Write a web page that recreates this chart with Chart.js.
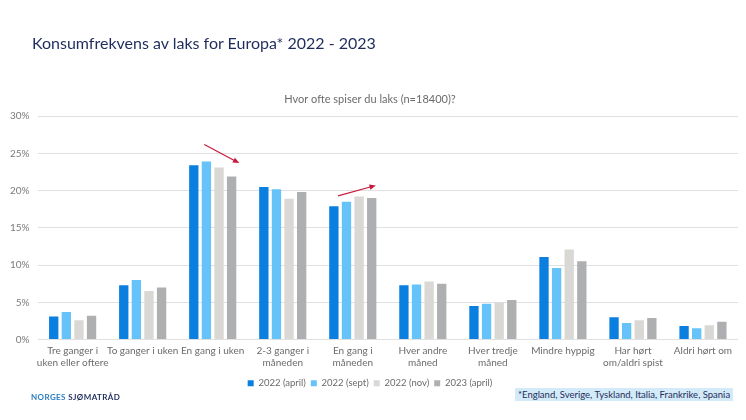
<!DOCTYPE html>
<html>
<head>
<meta charset="utf-8">
<script src="https://cdn.jsdelivr.net/npm/chart.js@4"></script>
<style>
    body { margin: 0; background: #fff; font-family: Lato, sans-serif; }
    #wrap { position: relative; width: 746px; height: 420px; }
    #title { position: absolute; left: 32px; top: 33px; font-size: 16px; color: #1f2d5c; white-space: nowrap; }
    #logo { position: absolute; left: 31px; top: 392px; font-size: 8px; font-weight: bold; letter-spacing: 0.4px; color: #1f2d5c; }
    #logo span { color: #2b7cc0; }
    #note { position: absolute; left: 515px; top: 388px; padding: 1px 3px; font-size: 9.5px; color: #1f2d5c; background: #d3eaf8; white-space: nowrap; }
</style>
</head>
<body>
<div id="wrap">
    <canvas id="chart" width="746" height="420"></canvas>
    <div id="title">Konsumfrekvens av laks for Europa* 2022 - 2023</div>
    <div id="logo"><span>NORGES</span> SJØMATRÅD</div>
    <div id="note">*England, Sverige, Tyskland, Italia, Frankrike, Spania</div>
</div>
<script>
const categories = [
    ["Tre ganger i", "uken eller oftere"],
    "To ganger i uken",
    "En gang i uken",
    ["2-3 ganger i", "måneden"],
    ["En gang i", "måneden"],
    ["Hver andre", "måned"],
    ["Hver tredje", "måned"],
    "Mindre hyppig",
    ["Har hørt", "om/aldri spist"],
    "Aldri hørt om"
]

const april2022 = [3.1, 7.3, 23.4, 20.5, 17.9, 7.3, 4.5, 11.1, 3.0, 1.8]
const sept2022  = [3.7, 8.0, 23.9, 20.2, 18.5, 7.4, 4.8, 9.6, 2.2, 1.5]
const nov2022   = [2.6, 6.5, 23.1, 18.9, 19.2, 7.8, 5.0, 12.1, 2.6, 1.9]
const april2023 = [3.2, 7.0, 21.9, 19.8, 19.0, 7.5, 5.3, 10.5, 2.9, 2.4]

const seriesNames = ["2022 (april)", "2022 (sept)", "2022 (nov)", "2023 (april)"]
const seriesColors = ["#0a7fe0", "#66c3fa", "#d9d8d5", "#aeafb1"]

// trend arrows: [category position, value] start -> end
const arrows = [
    {from: [1.88, 26.2], to: [2.38, 23.7]},
    {from: [3.79, 19.3], to: [4.33, 20.7]}
]

const arrowPlugin = {
    id: "arrows",
    afterDatasetsDraw(chart) {
        const {ctx, scales: {x, y}} = chart
        const step = x.getPixelForValue(1) - x.getPixelForValue(0)
        const px = v => x.getPixelForValue(0) + v * step
        ctx.save()
        ctx.strokeStyle = "#c8193c"
        ctx.fillStyle = "#c8193c"
        ctx.lineWidth = 1.2
        arrows.forEach(a => {
            const x1 = px(a.from[0]), y1 = y.getPixelForValue(a.from[1])
            const x2 = px(a.to[0]), y2 = y.getPixelForValue(a.to[1])
            const ang = Math.atan2(y2 - y1, x2 - x1)
            ctx.beginPath()
            ctx.moveTo(x1, y1)
            ctx.lineTo(x2 - 4 * Math.cos(ang), y2 - 4 * Math.sin(ang))
            ctx.stroke()
            ctx.beginPath()
            ctx.moveTo(x2, y2)
            ctx.lineTo(x2 - 7 * Math.cos(ang - 0.4), y2 - 7 * Math.sin(ang - 0.4))
            ctx.lineTo(x2 - 7 * Math.cos(ang + 0.4), y2 - 7 * Math.sin(ang + 0.4))
            ctx.closePath()
            ctx.fill()
        })
        ctx.restore()
    }
}

const values = [april2022, sept2022, nov2022, april2023]

new Chart(document.querySelector("#chart"), {
    type: "bar",
    data: {
        labels: categories,
        datasets: values.map((data, i) => ({
            label: seriesNames[i],
            data: data,
            backgroundColor: seriesColors[i],
            categoryPercentage: 0.72,
            barPercentage: 0.74
        }))
    },
    options: {
        responsive: false,
        animation: false,
        layout: {padding: {top: 93, bottom: 22, left: 2, right: 8}},
        plugins: {
            legend: {
                position: "bottom",
                labels: {
                    boxWidth: 6, boxHeight: 6, padding: 5,
                    color: "#6b6b6b",
                    font: {family: "Lato", size: 9.5}
                }
            },
            subtitle: {
                display: true,
                text: "Hvor ofte spiser du laks (n=18400)?",
                color: "#6b6b6b",
                font: {family: "Lato", size: 11, weight: "normal"},
                padding: {top: 0, bottom: 10}
            },
            tooltip: {enabled: false}
        },
        scales: {
            x: {
                grid: {display: false, drawTicks: false},
                border: {display: false},
                ticks: {
                    color: "#6b6b6b",
                    font: {family: "Lato", size: 10, lineHeight: 1.2},
                    maxRotation: 0,
                    autoSkip: false,
                    padding: 5
                }
            },
            y: {
                min: 0, max: 30,
                ticks: {
                    stepSize: 5,
                    color: "#7a7a7a",
                    font: {family: "Lato", size: 10},
                    padding: 8,
                    callback: v => v + "%"
                },
                grid: {color: "#e0e0e0", drawTicks: false},
                border: {display: false}
            }
        }
    },
    plugins: [arrowPlugin]
})
</script>
</body>
</html>
